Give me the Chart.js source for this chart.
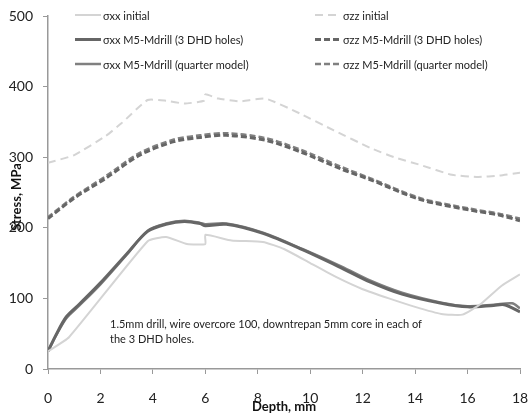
<!DOCTYPE html>
<html>
<head>
<meta charset="utf-8">
<script src="https://cdn.jsdelivr.net/npm/chart.js@4/dist/chart.umd.min.js"></script>
<style>
    html, body { margin: 0; padding: 0; background: #fff; }
    #wrap { width: 529px; height: 419px; }
</style>
</head>
<body>
<div id="wrap"><canvas id="stressChart"></canvas></div>
<script>
// Depths (mm) and stresses (MPa)
const xxInitDepth = [0, 0.8, 3.8, 4.5, 5.3, 6, 6, 7, 8.2, 9, 10, 11, 12, 13, 14, 15, 15.8, 16.5, 17.3, 18];
const xxInit      = [25, 45, 181, 187, 177, 177, 190, 182, 180, 170, 150, 130, 113, 100, 88, 78, 77, 92, 118, 134];

const xxDhdDepth  = [0, 0.3, 0.7, 1.2, 2, 3, 3.8, 4.5, 5.2, 5.8, 6, 6.8, 8.2, 9.7, 11.2, 12.3, 13.5, 15, 16, 17, 17.4, 18];
const xxDhd       = [25, 48, 74, 92, 122, 163, 195, 205, 209, 206, 203, 205, 192, 169, 143, 123, 106, 93, 88, 90, 91, 81];

const xxQtrDepth  = [0, 0.3, 0.7, 1.2, 2, 3, 3.8, 4.5, 5.2, 5.8, 6, 6.8, 8.2, 9.7, 11.2, 12.3, 13.5, 15, 16, 17, 17.7, 18];
const xxQtr       = [25, 47, 72, 90, 120, 162, 196, 206, 210, 207, 205, 206, 193, 170, 145, 125, 108, 94, 89, 91, 93, 86];

const zzInitDepth = [0, 1, 2.2, 2.8, 3.8, 4.5, 5.2, 5.95, 6, 6.5, 7.3, 8.3, 9.6, 10.9, 12.3, 13.2, 14.2, 15.4, 16.4, 17.2, 18];
const zzInit      = [292, 303, 330, 348, 381, 380, 376, 380, 389, 383, 379, 383, 362, 338, 313, 300, 289, 275, 272, 274, 278];

const zzDhdDepth  = [0, 1, 2.2, 3.5, 4.8, 5.8, 6.8, 8.3, 9.6, 11.2, 12.3, 14.2, 16.1, 17.2, 18];
const zzDhd       = [213, 242, 270, 303, 322, 328, 331, 324, 308, 283, 268, 240, 225, 218, 210];

const zzQtrDepth  = [0, 1, 2.2, 3.5, 4.8, 5.8, 6.8, 8.3, 9.6, 11.2, 12.3, 14.2, 16.1, 17.2, 18];
const zzQtr       = [215, 244, 273, 306, 325, 331, 334, 327, 311, 286, 270, 242, 227, 220, 213];

const xTicks = [0, 2, 4, 6, 8, 10, 12, 14, 16, 18];
const yTicks = [0, 100, 200, 300, 400, 500];

const noteLines = [
    '1.5mm drill, wire overcore 100, downtrepan 5mm core in each of',
    'the 3 DHD holes.'
];

const FONT = 'Lato, "Open Sans", sans-serif';

function pts(depth, vals) {
    return depth.map((d, i) => ({ x: d, y: vals[i] }));
}

// Legend, axis titles and the note are drawn straight onto the canvas
const overlayPlugin = {
    id: 'overlay',
    afterDraw(chart) {
        const c = chart.ctx;
        c.save();
        c.font = '11px ' + FONT;
        c.textBaseline = 'middle';
        chart.data.datasets.forEach((ds, i) => {
            const x = i < 3 ? 75 : 315;
            const y = 15 + (i % 3) * 24.5;
            c.strokeStyle = ds.borderColor;
            c.lineWidth = ds.borderWidth;
            c.setLineDash(ds.borderDash || []);
            c.beginPath();
            c.moveTo(x, y);
            c.lineTo(x + 26, y);
            c.stroke();
            c.setLineDash([]);
            c.fillStyle = '#222';
            c.textAlign = 'left';
            c.fillText(ds.label, x + 28, y + 1);
        });

        // note
        c.fillStyle = '#222';
        noteLines.forEach((t, i) => c.fillText(t, 110, 324 + i * 15));

        // axis titles
        c.font = 'bold 13px ' + FONT;
        c.fillStyle = '#111';
        c.textAlign = 'center';
        c.fillText('Depth, mm', 284, 407);
        c.translate(17, 197);
        c.rotate(-Math.PI / 2);
        c.fillText('Stress, MPa', 0, 0);
        c.restore();
    }
};

function createStressChart() {
    const ctx = document.getElementById('stressChart');

    new Chart(ctx, {
        type: 'line',
        data: {
            datasets: [
                {
                    label: 'σxx initial',
                    data: pts(xxInitDepth, xxInit),
                    borderColor: '#d4d4d4',
                    borderWidth: 2,
                    tension: 0.15
                },
                {
                    label: 'σxx M5-Mdrill (3 DHD holes)',
                    data: pts(xxDhdDepth, xxDhd),
                    borderColor: '#666666',
                    borderWidth: 3,
                    tension: 0.3
                },
                {
                    label: 'σxx M5-Mdrill (quarter model)',
                    data: pts(xxQtrDepth, xxQtr),
                    borderColor: '#808080',
                    borderWidth: 2.5,
                    tension: 0.3
                },
                {
                    label: 'σzz initial',
                    data: pts(zzInitDepth, zzInit),
                    borderColor: '#d4d4d4',
                    borderWidth: 2,
                    borderDash: [8, 5],
                    tension: 0.15
                },
                {
                    label: 'σzz M5-Mdrill (3 DHD holes)',
                    data: pts(zzDhdDepth, zzDhd),
                    borderColor: '#666666',
                    borderWidth: 3,
                    borderDash: [6, 3],
                    tension: 0.3
                },
                {
                    label: 'σzz M5-Mdrill (quarter model)',
                    data: pts(zzQtrDepth, zzQtr),
                    borderColor: '#808080',
                    borderWidth: 2.5,
                    borderDash: [6, 3],
                    tension: 0.3
                }
            ]
        },
        options: {
            responsive: true,
            maintainAspectRatio: false,
            animation: false,
            layout: {
                padding: { top: 16, right: 9, left: 0, bottom: 0 }
            },
            elements: {
                point: { radius: 0 }
            },
            plugins: {
                legend: { display: false },
                tooltip: { enabled: false }
            },
            scales: {
                x: {
                    type: 'linear',
                    min: 0,
                    max: 18,
                    afterBuildTicks: (s) => { s.ticks = xTicks.map(v => ({ value: v })); },
                    afterFit: (s) => { s.height = 50; s.paddingRight = 0; s.paddingLeft = 0; },
                    grid: {
                        drawOnChartArea: false,
                        tickLength: 5,
                        color: '#999'
                    },
                    border: { color: '#999', width: 1.5 },
                    ticks: {
                        color: '#222',
                        padding: 16,
                        maxRotation: 0,
                        font: { family: FONT, size: 14 }
                    }
                },
                y: {
                    min: 0,
                    max: 500,
                    afterBuildTicks: (s) => { s.ticks = yTicks.map(v => ({ value: v })); },
                    afterFit: (s) => { s.width = 48; s.paddingTop = 0; s.paddingBottom = 0; },
                    grid: {
                        drawOnChartArea: false,
                        tickLength: 5,
                        color: '#999'
                    },
                    border: { color: '#999', width: 1.5 },
                    ticks: {
                        color: '#222',
                        padding: 10,
                        font: { family: FONT, size: 14 }
                    }
                }
            }
        },
        plugins: [overlayPlugin]
    });
}

createStressChart();
</script>
</body>
</html>
